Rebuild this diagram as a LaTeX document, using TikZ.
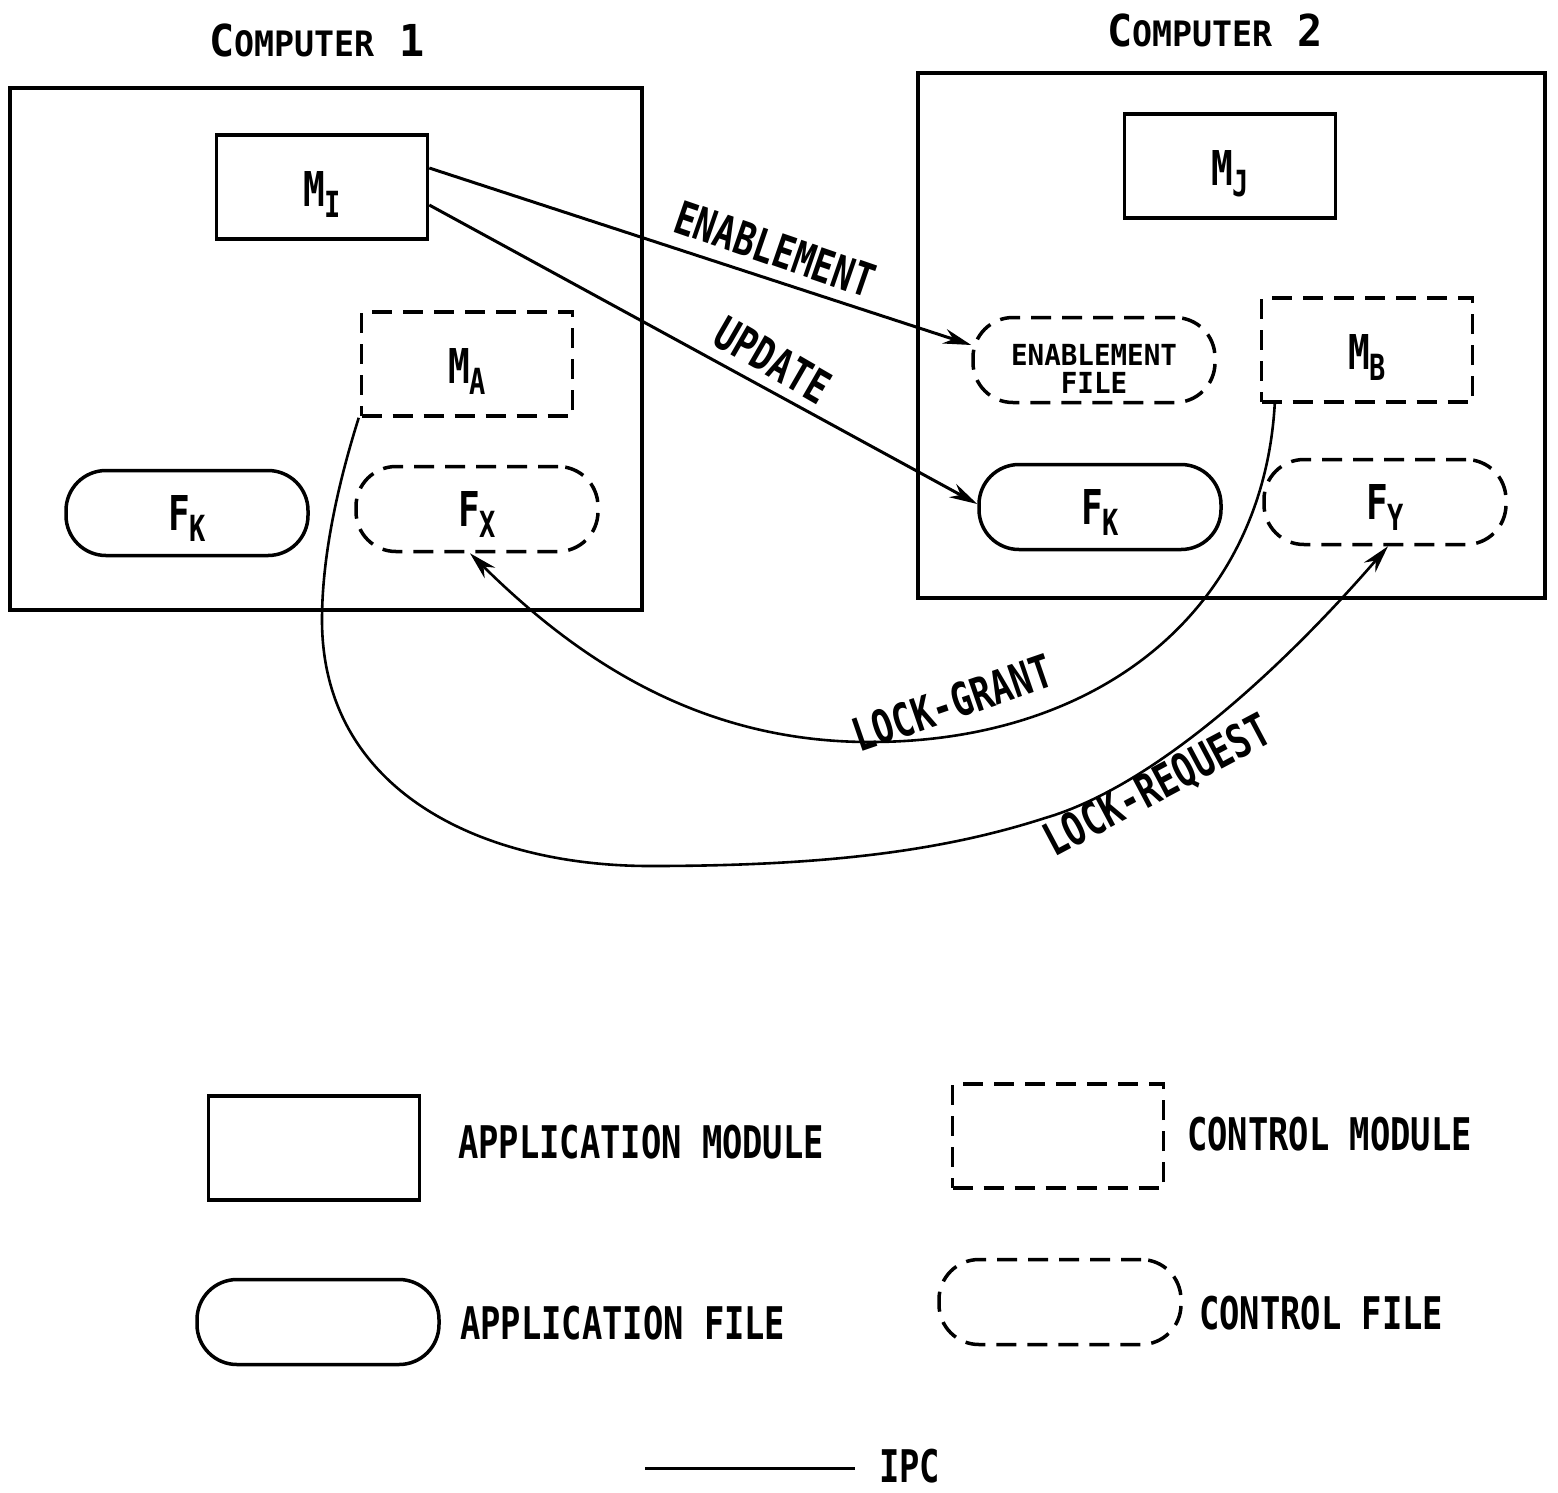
\documentclass[tikz,border=0pt]{standalone}
\usepackage{fontspec}
\setmainfont{DejaVu Sans Mono}[FakeStretch=0.75, UprightFont=* Bold]
\newfontfamily\plainmono{DejaVu Sans Mono}[FakeStretch=0.95, UprightFont=* Bold]
\usetikzlibrary{arrows.meta}
\newcommand\setfs[1]{\fontsize{#1}{#1}\selectfont}
\newcommand\lowsub[1]{\raisebox{-11pt}{\setfs{36}#1}}
\begin{document}
\begin{tikzpicture}[x=1pt,y=-1pt,
  frame/.style={draw, line width=3.5pt, inner sep=0pt},
  appmod/.style={draw, line width=3.5pt, minimum width=211pt, minimum height=104pt,
                 inner sep=0pt, font=\setfs{48}, text height=44pt, text depth=6pt},
  ctlmod/.style={appmod, dash pattern=on 20pt off 11pt},
  appfile/.style={draw, line width=3.5pt, rounded corners=40pt, minimum width=242pt,
                  minimum height=85pt, inner sep=0pt, font=\setfs{48},
                  text height=41pt, text depth=7pt},
  ctlfile/.style={appfile, dash pattern=on 20pt off 11pt},
  ipc/.style={line width=3pt, -{Stealth[length=28pt,width=15pt]}},
  curveipc/.style={ipc, line width=2.6pt},
  lbl/.style={font=\setfs{46}, inner sep=0pt},
  legend/.style={font=\setfs{45}, inner sep=0pt, anchor=west},
  title/.style={font=\plainmono\setfs{44}, inner sep=0pt}
]
\useasboundingbox (0,0) rectangle (1558,1492);

% computers
\node[frame, minimum width=632pt, minimum height=522pt] (comp1) at (326,349) {};
\node[frame, minimum width=627pt, minimum height=525pt] (comp2) at (1231.5,335.5) {};
\node[title] (t1) at (317,40) {C{\setfs{35}OMPUTER} 1};
\node[title] (t2) at (1215,30) {C{\setfs{35}OMPUTER} 2};

% computer 1 contents
\node[appmod]  (mi)  at (322,187) {M\lowsub{I}};
\node[ctlmod]  (ma)  at (467,364) {M\lowsub{A}};
\node[appfile] (fk1) at (187,513) {F\lowsub{K}};
\node[ctlfile] (fx)  at (477,509) {F\lowsub{X}};

% computer 2 contents
\node[appmod]  (mj)  at (1230,166) {M\lowsub{J}};
\node[ctlmod]  (mb)  at (1367,350) {M\lowsub{B}};
\node[ctlfile] (ef) at (1094,360) {};
\node[font=\plainmono\setfs{29}, align=center, inner sep=0pt] (eftext) at (1094,369)
     {ENABLEMENT\\[-1pt]FILE};
\node[appfile] (fk2) at (1100,507) {F\lowsub{K}};
\node[ctlfile] (fy)  at (1385,502) {F\lowsub{Y}};

% straight IPC arrows
\draw[ipc] ([yshift=19pt]mi.east) -- ([yshift=15pt]ef.west);
\draw[ipc] ([yshift=-18pt]mi.east) -- ([yshift=3pt]fk2.west);
\node[lbl, rotate=-19] (lenab) at (775,249) {ENABLEMENT};
\node[lbl, rotate=-30] (lupd) at (773,360) {UPDATE};

% lock request: from M_A round the bottom to F_Y
\coordinate (rq1) at (322,620);
\coordinate (rq2) at (650,866);
\coordinate (rq3) at (1045,818);
\draw[curveipc] ([xshift=-1pt]ma.south west)
    .. controls (336,490) and (322,560) .. (rq1)
    .. controls (322,790) and (480,866) .. (rq2)
    .. controls (820,866) and (940,852) .. (rq3)
    .. controls (1165,783) and (1300,648) .. ([xshift=3pt]fy.south);
% lock grant: from M_B round the bottom to F_X
\coordinate (gr1) at (870,742);
\draw[curveipc] ([xshift=15pt]mb.south west)
    .. controls (1263,610) and (1100,742) .. (gr1)
    .. controls (700,742) and (578,660) .. ([xshift=-7pt]fx.south);
\node[lbl, rotate=19] (lgrant) at (952,703) {LOCK-GRANT};
\node[lbl, rotate=28] (lreq) at (1158,787) {LOCK-REQUEST};

% legend
\node[appmod]  (kam) at (314,1148) {};
\node[legend]  (tam) at (458,1142) {APPLICATION MODULE};
\node[ctlmod]  (kcm) at (1058,1136) {};
\node[legend]  (tcm) at (1187,1134) {CONTROL MODULE};
\node[appfile] (kaf) at (318,1322) {};
\node[legend]  (taf) at (460,1323) {APPLICATION FILE};
\node[ctlfile] (kcf) at (1060,1302) {};
\node[legend]  (tcf) at (1199,1313) {CONTROL FILE};
\coordinate (ipca) at (645,1468);
\coordinate (ipcb) at (855,1468);
\draw[line width=3pt] (ipca) -- (ipcb);
\node[legend] (tipc) at (879,1466) {IPC};
\end{tikzpicture}
\end{document}
